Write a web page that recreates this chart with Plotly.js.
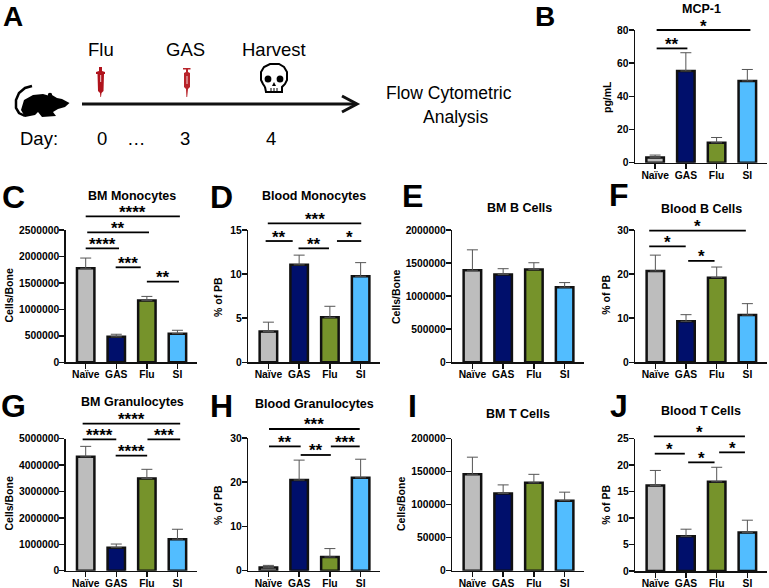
<!DOCTYPE html>
<html><head><meta charset="utf-8">
<script src="https://cdn.plot.ly/plotly-3.0.1.min.js"></script>
<style>html,body{margin:0;padding:0;background:#fff}#c{width:769px;height:588px}</style>
</head><body><div id="c"></div>
<script>
const categories = ['Naïve','GAS','Flu','SI'];
const barColors = ['#BDBDBD','#000F6B','#76932B','#52BDFF'];

const mcpValues = [3.2,55.3,12,49.3];           const mcpErrors = [1.4,11,3.2,6.9];
const bmMonoValues = [1776000,481000,1166000,541000]; const bmMonoErrors = [194000,49000,79000,64000];
const blMonoValues = [3.5,11.05,5.1,9.75];    const blMonoErrors = [1.05,1.1,1.25,1.55];
const bmBValues = [1391000,1326000,1401000,1136000];  const bmBErrors = [309000,89000,104000,69000];
const blBValues = [20.7,9.3,19.2,10.7];           const blBErrors = [3.6,1.5,2.4,2.6];
const bmGranValues = [4313000,873000,3493000,1193000]; const bmGranErrors = [397000,137000,347000,377000];
const blGranValues = [0.7,20.5,3.1,21];       const blGranErrors = [0.5,4.5,1.9,4.2];
const bmTValues = [146100,117100,133100,106100]; const bmTErrors = [25900,12900,12900,12900];
const blTValues = [16.16,6.56,16.86,7.26];        const blTErrors = [2.84,1.34,2.74,2.34];

// significance brackets: from group, to group, level in y units, stars
const mcpSig = [[0.05,3.1,80,'*'],[0.05,1.05,68.9,'**']];
const bmMonoSig = [[0,3.08,2758000,'****'],[0.05,2.07,2456000,'**'],[0,1.09,2154000,'****'],[0.98,1.8,1795000,'***'],[2,3.05,1524000,'**']];
const blMonoSig = [[-0.02,3.02,15.75,'***'],[-0.09,0.79,13.75,'**'],[2.23,3.02,13.75,'*'],[0.98,1.97,12.92,'**']];
const blBSig = [[-0.2,2.95,29.85,'*'],[-0.2,0.99,26.3,'*'],[1.07,1.93,23,'*']];
const bmGranSig = [[-0.1,3.09,5568000,'****'],[-0.1,1,4975000,'****'],[2.02,3.09,4975000,'***'],[0.98,2.01,4356000,'****']];
const blGranSig = [[0.02,2.97,32.04,'***'],[0.02,1.05,28.1,'**'],[2.03,2.97,28.1,'***'],[1.05,2.03,26.16,'**']];
const blTSig = [[-0.05,2.92,25.44,'*'],[-0.02,0.96,22.17,'*'],[1.07,1.93,20.53,'*'],[2.08,2.92,22.42,'*']];

const W = 769, H = 588;
const FONT = 'Liberation Sans, Arial, sans-serif';
const PX = x => x / W, PY = y => 1 - y / H;
const XMIN = -0.654, XMAX = 3.63;

const panels = [
 {letter:'B',lx:545,ly:16,ls:28,title:'MCP-1',tx:701,ty:9,yt:'pg/mL',ytx:607,yty:97,v:mcpValues,e:mcpErrors,s:mcpSig,ymax:80,dt:20,l:635,r:766.7,top:30,bot:162.7},
 {letter:'C',lx:13,ly:197,title:'BM Monocytes',tx:132,ty:196,yt:'Cells/Bone',ytx:8.5,yty:296,v:bmMonoValues,e:bmMonoErrors,s:bmMonoSig,ymax:2500000,dt:500000,l:65.7,r:196.7,top:230,bot:362.3},
 {letter:'D',lx:222,ly:197,title:'Blood Monocytes',tx:314,ty:196,yt:'% of PB',ytx:218,yty:297,v:blMonoValues,e:blMonoErrors,s:blMonoSig,ymax:15,dt:5,l:248.3,r:380,top:230,bot:362.3},
 {letter:'E',lx:412,ly:196,title:'BM B Cells',tx:519,ty:208,yt:'Cells/Bone',ytx:396,yty:297,v:bmBValues,e:bmBErrors,s:[],ymax:2000000,dt:500000,l:452.3,r:584,top:230,bot:362.3},
 {letter:'F',lx:619,ly:195,title:'Blood B Cells',tx:701.7,ty:209,yt:'% of PB',ytx:605.7,yty:295,v:blBValues,e:blBErrors,s:blBSig,ymax:30,dt:10,l:635.3,r:766.7,top:230,bot:362.3},
 {letter:'G',lx:13,ly:406,title:'BM Granulocytes',tx:132,ty:402,yt:'Cells/Bone',ytx:8.5,yty:504,v:bmGranValues,e:bmGranErrors,s:bmGranSig,ymax:5000000,dt:1000000,l:65.7,r:196.7,top:438.7,bot:570.7},
 {letter:'H',lx:222,ly:406,title:'Blood Granulocytes',tx:314,ty:404,yt:'% of PB',ytx:218,yty:505,v:blGranValues,e:blGranErrors,s:blGranSig,ymax:30,dt:10,l:248.3,r:380,top:438,bot:570.7},
 {letter:'I',lx:412,ly:406,title:'BM T Cells',tx:518,ty:414,yt:'Cells/Bone',ytx:401,yty:504,v:bmTValues,e:bmTErrors,s:[],ymax:200000,dt:50000,l:452.3,r:584,top:438.7,bot:570.7},
 {letter:'J',lx:619,ly:406,title:'Blood T Cells',tx:701,ty:411,yt:'% of PB',ytx:605.7,yty:505,v:blTValues,e:blTErrors,s:blTSig,ymax:25,dt:5,l:635.3,r:766.7,top:438.7,bot:571}
];

const traces = [], shapes = [], annotations = [];
const layout = {width:W,height:H,margin:{l:0,r:0,t:0,b:0,pad:0},paper_bgcolor:'#fff',plot_bgcolor:'rgba(0,0,0,0)',
  showlegend:false,bargap:0,font:{family:FONT,color:'#000'},shapes,annotations};

function text(t,x,y,size,bold,extra){
  annotations.push(Object.assign({text:bold?'<b>'+t+'</b>':t,xref:'paper',yref:'paper',x:PX(x),y:PY(y),xanchor:'center',yanchor:'middle',
    showarrow:false,font:{family:FONT,size,color:'#000'},borderpad:0},extra||{}));
}

panels.forEach((p,i)=>{
  const n = i===0?'':String(i+1);
  traces.push({type:'bar',x:categories,y:p.v,xaxis:'x'+n,yaxis:'y'+n,width:0.57,hoverinfo:'x+y',
    marker:{color:barColors,line:{color:'#111',width:2.5}},
    error_y:{type:'data',symmetric:false,array:p.e,arrayminus:[0,0,0,0],color:'#555',thickness:1,width:5.5}});
  layout['xaxis'+n] = {domain:[PX(p.l),PX(p.r)],anchor:'y'+n,type:'category',range:[XMIN,XMAX],fixedrange:true,
    showline:true,linecolor:'#111',linewidth:1.5,ticks:'outside',ticklen:5,tickwidth:1.5,tickcolor:'#111',showgrid:false,zeroline:false,
    ticklabelstandoff:-3,tickfont:{family:FONT,size:10.3,color:'#000',weight:'bold'}};
  layout['yaxis'+n] = {domain:[PY(p.bot),PY(p.top)],anchor:'x'+n,range:[0,p.ymax],dtick:p.dt,tick0:0,fixedrange:true,
    showline:true,linecolor:'#111',linewidth:1.5,ticks:'outside',ticklen:5,tickwidth:1.5,tickcolor:'#111',showgrid:false,zeroline:false,
    ticklabelstandoff:-2,tickformat:'d',exponentformat:'none',tickfont:{family:FONT,size:10.3,color:'#000',weight:'bold'}};
  text(p.letter,p.lx,p.ly,p.ls||32,true);
  text(p.title,p.tx,p.ty,12.5,true);
  text(p.yt,p.ytx,p.yty,10.5,true,{textangle:-90});
  const sx = x => (p.l + (x-XMIN)*(p.r-p.l)/(XMAX-XMIN));
  const sy = v => p.bot - v*(p.bot-p.top)/p.ymax;
  p.s.forEach(b=>{
    const y = sy(b[2]);
    shapes.push({type:'line',xref:'paper',yref:'paper',x0:PX(sx(b[0])),x1:PX(sx(b[1])),y0:PY(y),y1:PY(y),line:{color:'#000',width:1.8}});
    text(b[3],(sx(b[0])+sx(b[1]))/2,y-4,17,true);
  });
});

// Panel A: timeline schematic
text('A',13,16,28,true);
text('Flu',100.7,50,18.5,false);
text('GAS',185.5,50,18.5,false);
text('Harvest',274,50,18.5,false);
text('Day:',39,138,18.5,false);
text('0',102,138,18.5,false);
text('…',136,138,18.5,false);
text('3',185,138,18.5,false);
text('4',271,138,18.5,false);
text('Flow Cytometric',449,93,17.5,false);
text('Analysis',455,117,17.5,false);

function path(pts,close){
  return 'M'+pts.map(q=>PX(q[0])+','+PY(q[1])).join('L')+(close?'Z':'');
}
const fillShape = (pts,color)=>shapes.push({type:'path',xref:'paper',yref:'paper',path:path(pts,true),fillcolor:color,line:{width:0}});
const strokeShape = (pts,color,w)=>shapes.push({type:'path',xref:'paper',yref:'paper',path:path(pts,false),line:{color,width:w}});
const circle = (cx,cy,rx,ry,fc,lc,lw)=>shapes.push({type:'circle',xref:'paper',yref:'paper',x0:PX(cx-rx),x1:PX(cx+rx),y0:PY(cy+ry),y1:PY(cy-ry),fillcolor:fc,line:lc?{color:lc,width:lw}:{width:0}});

// arrow
strokeShape([[82,104],[356,104]],'#111',3);
strokeShape([[342,96],[357,104],[342,112]],'#111',3);

// mouse
fillShape([[24,100],[33,95],[43,94],[50,96],[52,95],[57,98],[62,99],[69.5,103],[65,107],[58,109],[53,112],[56,116],[42,117],[38,112],[35,115],[25,117],[21,110]],'#000');
strokeShape([[32,86],[25,88],[19,93],[16,100],[16,108],[19,113],[25,116]],'#000',2.5);
circle(50,95,2.2,2.2,'#000');

// syringe 1 (Flu)
const red1='#B0131C';
fillShape([[99,67],[102,67],[102,71],[105,72],[105,74],[104,74],[103.5,91],[101.5,93],[101,97],[100.4,97],[100,93],[98,91],[97.5,74],[96,74],[96,72],[99,71]],red1);
strokeShape([[100.7,75],[100.7,82]],'#fff',0.8);
// syringe 2 (GAS)
const red2='#B8232A';
fillShape([[183,68],[190.5,68],[190.5,69.5],[188,69.5],[188,72],[190,73],[190,87],[188,89],[187.2,97],[186.4,97],[186,89],[184,87],[184,73],[186,72],[186,69.5],[183,69.5]],red2);
strokeShape([[187,76],[187,84]],'#fff',0.8);

// skull
fillShape([[261,84],[266,85],[266,93],[281,93],[281,85],[286,84],[287,76],[287,70],[283,65],[274,63],[265,65],[261,70],[260,76]],'#fff');
strokeShape([[265,87],[263,84],[261,80],[261,72],[264,67],[270,64],[274,64],[279,64],[284,67],[287,72],[287,80],[285,84],[282,87],[282,92],[266,92],[265,87]],'#000',2);
circle(268,79,3.4,3.6,'#000');
circle(280,79,3.4,3.6,'#000');
fillShape([[274,82],[276,86],[272,86]],'#000');
strokeShape([[271,88],[271,92]],'#000',1);
strokeShape([[274,88],[274,92]],'#000',1);
strokeShape([[277,88],[277,92]],'#000',1);

Plotly.newPlot('c',traces,layout,{displayModeBar:false,staticPlot:true});
</script></body></html>
